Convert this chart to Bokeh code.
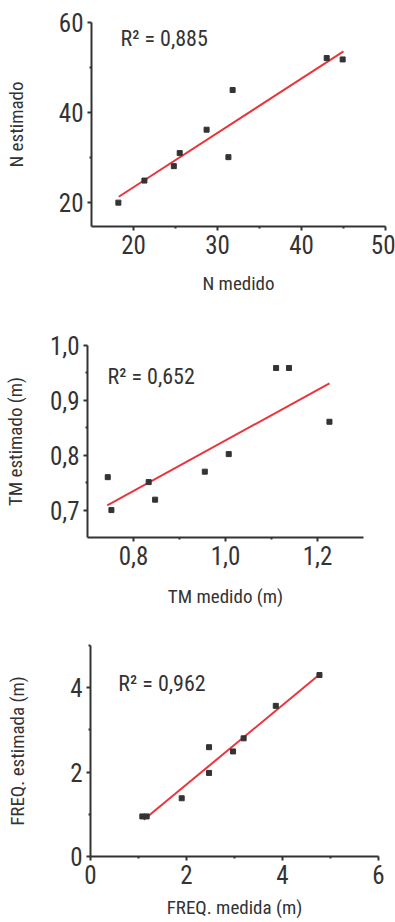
from bokeh.plotting import figure
from bokeh.layouts import column, row
from bokeh.models import Range1d, FixedTicker, CustomJSTickFormatter, Label
from bokeh.embed import file_html
from bokeh.resources import INLINE

FONT = "'Roboto Condensed', 'Liberation Sans', sans-serif"
INK = "#333333"
RED = "#e8363c"

# Panel 1: N
n_medido = [18.2, 21.3, 24.8, 25.5, 28.7, 31.3, 31.8, 43.0, 44.9]
n_estimado = [20.0, 24.9, 28.1, 31.0, 36.2, 30.1, 45.0, 52.1, 51.8]
n_fit_x = [18.25, 45.0]
n_fit_y = [21.3, 53.6]
n_r2 = "R² = 0,885"

# Panel 2: TM
tm_medido = [0.744, 0.752, 0.833, 0.847, 0.955, 1.007, 1.110, 1.138, 1.226]
tm_estimado = [0.760, 0.700, 0.751, 0.719, 0.770, 0.802, 0.959, 0.959, 0.861]
tm_fit_x = [0.743, 1.226]
tm_fit_y = [0.7085, 0.931]
tm_r2 = "R² = 0,652"

# Panel 3: FREQ
fr_medida = [1.08, 1.17, 1.90, 2.47, 2.47, 2.97, 3.19, 3.86, 4.77]
fr_estimada = [0.95, 0.95, 1.38, 1.98, 2.59, 2.49, 2.80, 3.57, 4.30]
fr_fit_x = [1.11, 4.79]
fr_fit_y = [0.87, 4.33]
fr_r2 = "R² = 0,962"


def make(xr, yr, xt, xm, yt, ym, xlab, ylab, xs, ys, fx, fy, r2, r2pos,
         h, bt, bb, bl, br, decimals, xstand, ystand):
    p = figure(width=395, height=h, x_range=Range1d(*xr), y_range=Range1d(*yr),
               output_backend="svg", toolbar_location=None,
               min_border_top=bt, min_border_bottom=bb,
               min_border_left=bl, min_border_right=br)
    p.outline_line_color = None
    p.grid.visible = False
    p.background_fill_color = "white"
    p.border_fill_color = "white"
    p.xaxis.ticker = FixedTicker(ticks=xt, minor_ticks=xm)
    p.yaxis.ticker = FixedTicker(ticks=yt, minor_ticks=ym)
    code = "return tick.toFixed(%d).replace('.', ',');" % decimals
    for ax in (p.xaxis[0], p.yaxis[0]):
        ax.formatter = CustomJSTickFormatter(code=code)
        ax.axis_line_color = INK
        ax.axis_line_width = 2
        ax.major_tick_line_color = INK
        ax.major_tick_line_width = 2
        ax.major_tick_out = 4
        ax.major_tick_in = 0
        ax.minor_tick_line_color = INK
        ax.minor_tick_line_width = 2
        ax.minor_tick_out = 2
        ax.minor_tick_in = 0
        ax.major_label_text_font = FONT
        ax.major_label_text_font_size = "25px"
        ax.major_label_text_color = INK
        ax.axis_label_text_font = FONT
        ax.axis_label_text_font_size = "19px"
        ax.axis_label_text_font_style = "normal"
        ax.axis_label_text_color = INK
    p.xaxis.axis_label = xlab
    p.yaxis.axis_label = ylab
    p.xaxis.major_label_standoff = 4
    p.yaxis.major_label_standoff = 4
    p.xaxis.axis_label_standoff = xstand
    p.yaxis.axis_label_standoff = ystand
    p.line(fx, fy, line_color=RED, line_width=2)
    p.scatter(xs, ys, marker="square", size=5, fill_color=INK, line_color=INK)
    p.add_layout(Label(x=r2pos[0], y=r2pos[1], text=r2, text_font=FONT,
                       text_font_size="22px", text_color=INK,
                       text_baseline="alphabetic"))
    return p


p1 = make((15, 50), (14.7, 60), [20, 30, 40, 50], [25, 35, 45], [20, 40, 60], [30, 50],
          "N medido", "N estimado", n_medido, n_estimado, n_fit_x, n_fit_y, n_r2,
          (18.45, 56.4), 305, 22, 79, 91, 10, 0, 15, 28)
p2 = make((0.7, 1.3), (0.65, 1.0), [0.8, 1.0, 1.2], [0.9, 1.1], [0.7, 0.8, 0.9, 1.0],
          [0.75, 0.85, 0.95], "TM medido (m)", "TM estimado (m)", tm_medido, tm_estimado,
          tm_fit_x, tm_fit_y, tm_r2, (0.7435, 0.944), 305, 40, 71, 87, 32, 1, 17, 20)
p3 = make((0, 6), (0, 5), [0, 2, 4, 6], [1, 3, 5], [0, 2, 4], [1, 3, 5],
          "FREQ. medida (m)", "FREQ. estimada (m)", fr_medida, fr_estimada,
          fr_fit_x, fr_fit_y, fr_r2, (0.58, 4.10), 312, 35, 66, 90, 17, 0, 9, 38)

layout = column(row(p1), row(p2), row(p3), spacing=0)
open("out.html", "w").write(file_html(layout, INLINE))
